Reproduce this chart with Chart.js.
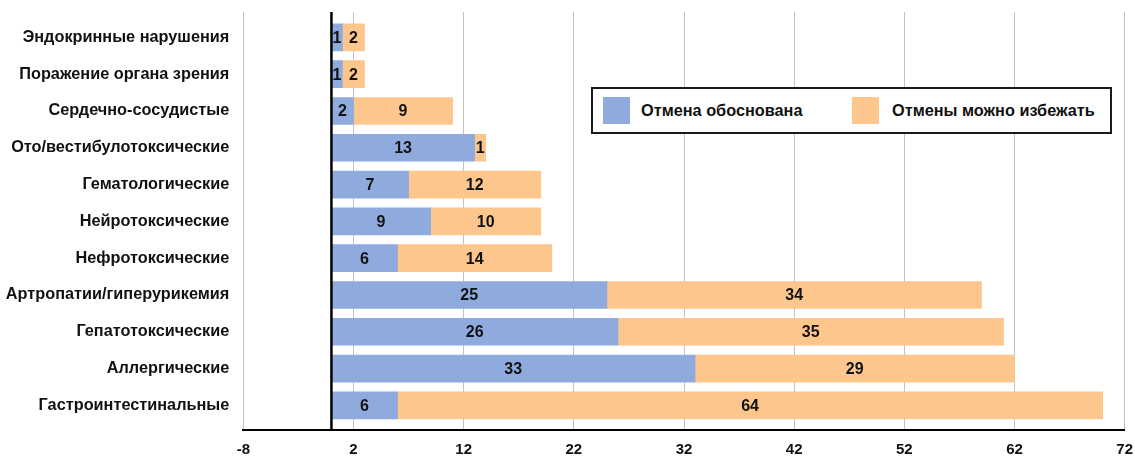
<!DOCTYPE html>
<html lang="ru">
<head>
<meta charset="utf-8">
<script src="https://cdn.jsdelivr.net/npm/chart.js@4.4.1/dist/chart.umd.min.js"></script>
<style>
  html, body { margin: 0; padding: 0; background: #fff; }
  #wrap { position: relative; width: 1135px; height: 456px; }
  #legend {
    position: absolute; left: 591px; top: 87px; width: 517px; height: 43px;
    border: 2px solid #1a1a1a; background: #fff;
    font: bold 16.3px "Liberation Sans", Arial, sans-serif; color: #111;
  }
  #legend .sw { position: absolute; top: 8px; width: 27px; height: 27px; }
  #legend .tx { position: absolute; top: 12px; line-height: 18px; white-space: nowrap; }
</style>
</head>
<body>
<div id="wrap">
  <canvas id="c" width="1135" height="456"></canvas>
  <div id="legend">
    <div class="sw" style="left:10px;background:#8faadc"></div>
    <div class="tx" style="left:48px">Отмена обоснована</div>
    <div class="sw" style="left:259px;background:#fcc68c"></div>
    <div class="tx" style="left:299px">Отмены можно избежать</div>
  </div>
</div>
<script>
// категории сверху вниз
const categories = [
  'Эндокринные нарушения',
  'Поражение органа зрения',
  'Сердечно-сосудистые',
  'Ото/вестибулотоксические',
  'Гематологические',
  'Нейротоксические',
  'Нефротоксические',
  'Артропатии/гиперурикемия',
  'Гепатотоксические',
  'Аллергические',
  'Гастроинтестинальные',
];
const justified = [1, 1, 2, 13, 7, 9, 6, 25, 26, 33, 6];
const avoidable = [2, 2, 9, 1, 12, 10, 14, 34, 35, 29, 64];
const seriesNames = ['Отмена обоснована', 'Отмены можно избежать'];
const xTicks = [-8, 2, 12, 22, 32, 42, 52, 62, 72];

const FONT = '"Liberation Sans", Arial, sans-serif';
const BLUE = '#8faadc';
const ORANGE = '#fcc68c';

// подписи значений в центре сегмента
const valueLabels = {
  id: 'valueLabels',
  afterDatasetsDraw(chart) {
    const ctx = chart.ctx;
    ctx.save();
    ctx.font = 'bold 16px ' + FONT;
    ctx.fillStyle = '#111';
    ctx.textAlign = 'center';
    ctx.textBaseline = 'middle';
    chart.data.datasets.forEach((ds, di) => {
      const meta = chart.getDatasetMeta(di);
      meta.data.forEach((el, i) => {
        const p = el.getProps(['x', 'y', 'base'], true);
        ctx.fillText(String(ds.data[i].x), (p.x + p.base) / 2, p.y + 1);
      });
    });
    ctx.restore();
  },
};

// черная линия нуля
const zeroLine = {
  id: 'zeroLine',
  afterDatasetsDraw(chart) {
    const { ctx, chartArea } = chart;
    const x0 = chart.scales.x.getPixelForValue(0);
    ctx.save();
    ctx.strokeStyle = '#000';
    ctx.lineWidth = 2.5;
    ctx.beginPath();
    ctx.moveTo(x0, chartArea.top);
    ctx.lineTo(x0, chartArea.bottom);
    ctx.stroke();
    ctx.restore();
  },
};

new Chart(document.getElementById('c'), {
  type: 'bar',
  data: {
    datasets: [
      {
        label: seriesNames[0],
        data: justified.map((v, i) => ({ x: v, y: i })),
        backgroundColor: BLUE,
        barThickness: 27,
      },
      {
        label: seriesNames[1],
        data: avoidable.map((v, i) => ({ x: v, y: i })),
        backgroundColor: ORANGE,
        barThickness: 27,
      },
    ],
  },
  options: {
    indexAxis: 'y',
    responsive: false,
    animation: false,
    layout: { padding: { top: 12, right: 10.3, bottom: 0, left: 0 } },
    plugins: { legend: { display: false }, tooltip: { enabled: false } },
    scales: {
      x: {
        type: 'linear',
        stacked: true,
        offset: false,
        min: xTicks[0],
        max: xTicks[xTicks.length - 1],
        afterFit: (s) => {
          s.height = 26;
          s.paddingLeft = 0;
          s.paddingRight = 0;
        },
        afterBuildTicks: (s) => { s.ticks = xTicks.map((v) => ({ value: v })); },
        ticks: {
          padding: 11,
          color: '#111',
          font: { family: FONT, size: 15, weight: 'bold' },
        },
        grid: { color: '#c2c2c2', lineWidth: 1, drawTicks: false },
        border: { display: true, color: '#000', width: 2 },
      },
      y: {
        type: 'linear',
        stacked: true,
        reverse: true,
        offset: false,
        min: -0.69,
        max: 10.67,
        afterFit: (s) => {
          s.width = 243.3;
          s.paddingTop = 0;
          s.paddingBottom = 0;
        },
        afterBuildTicks: (s) => { s.ticks = categories.map((_, i) => ({ value: i })); },
        ticks: {
          autoSkip: false,
          padding: 14,
          color: '#111',
          font: { family: FONT, size: 16.3, weight: 'bold' },
          callback: (v) => categories[v] ?? '',
        },
        grid: { display: false, drawTicks: false, offset: false },
        border: { display: false },
      },
    },
  },
  plugins: [zeroLine, valueLabels],
});
</script>
</body>
</html>
